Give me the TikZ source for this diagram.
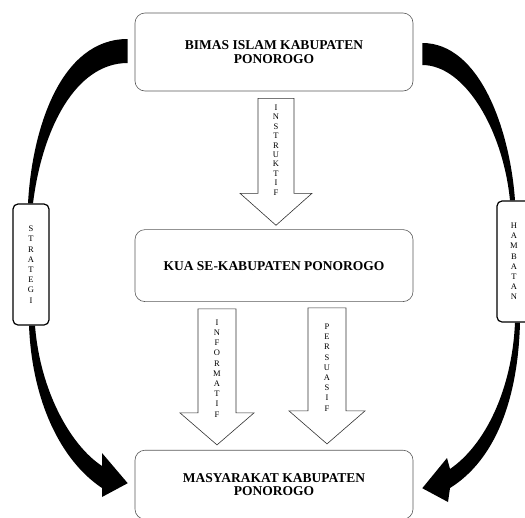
\documentclass[tikz,border=0pt]{standalone}
\usepackage{fontspec}
\setmainfont{Liberation Serif}
\usetikzlibrary{positioning}
\tikzset{main node/.style={rectangle,rounded corners=10pt,draw=black!65,line width=0.6pt,minimum width=278pt,inner sep=0pt,align=center,font=\fontsize{13.5}{13.5}\selectfont\bfseries},
side node/.style={rectangle,rounded corners=5pt,draw,line width=1.2pt,minimum width=36pt,minimum height=121pt,inner sep=0pt,align=center,font=\fontsize{8.5}{10.2}\selectfont},
letters/.style={align=center,inner sep=0pt,font=\fontsize{8.5}{10.2}\selectfont},
hollow arrow/.style={draw=black!80,line width=0.6pt,fill=white},
curved arrow/.style={fill=black},
}

\begin{document}
\begin{tikzpicture}[x=1pt,y=-1pt]
	\useasboundingbox (0,0) rectangle (525,517);
	\node[main node,minimum height=78pt] (bimas) at (274,52) {BIMAS ISLAM KABUPATEN\\PONOROGO};
	\node[main node,minimum height=72pt] (kua) [below = 138pt of bimas] {KUA SE-KABUPATEN PONOROGO};
	\node[main node,minimum height=69pt] (masyarakat) [below = 148pt of kua] {MASYARAKAT KABUPATEN\\PONOROGO};
	\node[side node] (strategi) at (31,264.5) {S\\T\\R\\A\\T\\E\\G\\I};
	\node[side node,minimum width=34pt] (hambatan) at (514,261.5) {H\\A\\M\\B\\A\\T\\A\\N};
	
	% hollow arrows
	\draw[hollow arrow] ([xshift=-16pt,yshift=-7pt]bimas.south) -- ++(0,95) -- ++(-18,0) -- ++(36,32) -- ++(36,-32) -- ++(-18,0) -- ++(0,-95) -- cycle;
	\draw[hollow arrow] ([xshift=-76pt,yshift=-7pt]kua.south) -- ++(0,104) -- ++(-18,0) -- ++(37,32) -- ++(37,-32) -- ++(-18,0) -- ++(0,-104) -- cycle;
	\draw[hollow arrow] ([xshift=34pt,yshift=-6pt]kua.south) -- ++(0,103) -- ++(-19,0) -- ++(38,33) -- ++(38,-33) -- ++(-19,0) -- ++(0,-103) -- cycle;
	\node[letters,font=\fontsize{8.5}{9.4}\selectfont] (instruktif) at (276,150) {I\\N\\S\\T\\R\\U\\K\\T\\I\\F};
	\node[letters] (informatif) at (217,368.5) {I\\N\\F\\O\\R\\M\\A\\T\\I\\F};
	\node[letters] (persuasif) at (327,367.5) {P\\E\\R\\S\\U\\A\\S\\I\\F};
	
	% curved arrows
	\fill[curved arrow] ([xshift=-7pt,yshift=13pt]bimas.west) .. controls (60,39) and (32,130) .. ([xshift=-3pt]strategi.north)
		-- ([xshift=2pt]strategi.north) .. controls (42,130) and (75,63) .. ([xshift=-7pt,yshift=-11pt]bimas.west) -- cycle;
	\fill[curved arrow] ([xshift=9pt,yshift=9pt]bimas.east) .. controls (480,43) and (510,130) .. ([xshift=1pt]hambatan.north)
		-- ([xshift=-4pt]hambatan.north) .. controls (503,130) and (465,65) .. ([xshift=9pt,yshift=-13pt]bimas.east) -- cycle;
	\fill[curved arrow] ([xshift=-2pt]strategi.south) .. controls (32,400) and (60,460) .. (102,488) -- (102,497)
		-- ([xshift=-7pt,yshift=1.5pt]masyarakat.west) -- (102,453) -- (102,466) .. controls (70,445) and (40,390) .. ([xshift=4pt]strategi.south) -- cycle;
	\fill[curved arrow] ([xshift=6pt]hambatan.south) .. controls (518,400) and (495,460) .. (450,488) -- (448,502)
		-- ([xshift=9pt,yshift=-3.5pt]masyarakat.east) -- (447,458) -- (450,469) .. controls (485,445) and (512,390) .. ([xshift=1pt]hambatan.south) -- cycle;
\end{tikzpicture}
\end{document}
